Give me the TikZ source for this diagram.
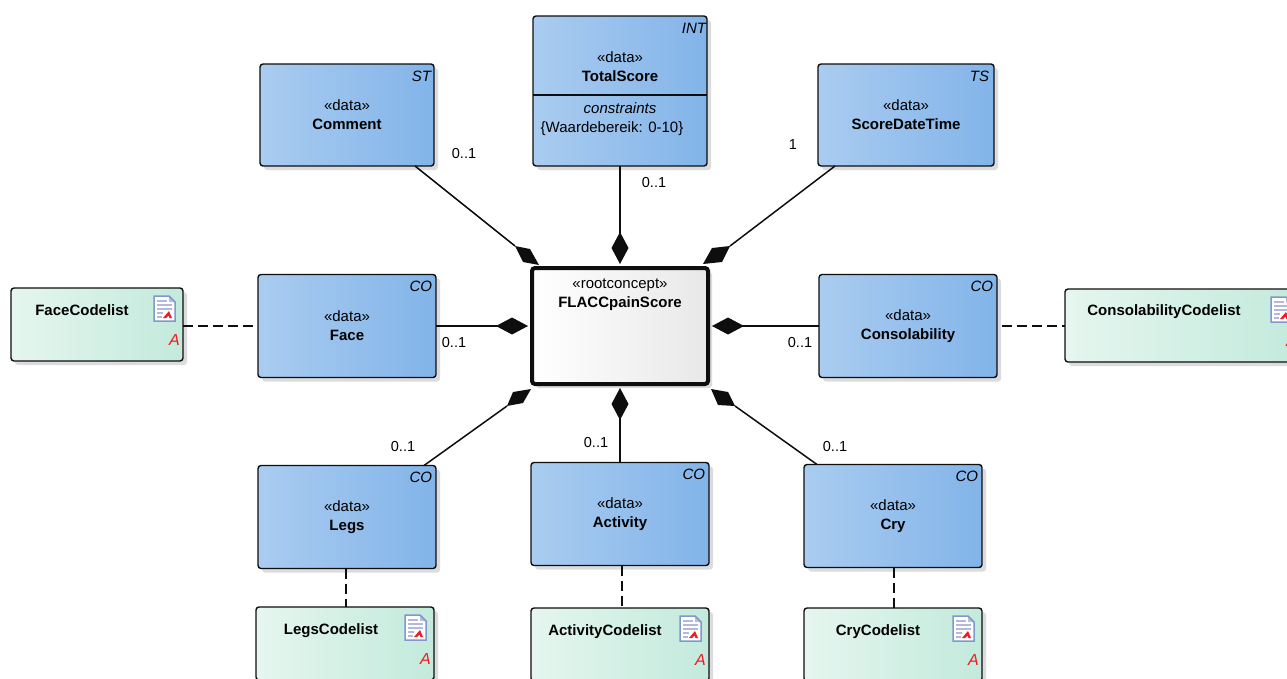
\documentclass[tikz,border=0pt]{standalone}
\usepackage{fontspec}
\setmainfont{Liberation Sans}
\usetikzlibrary{arrows.meta,shadows}
\definecolor{edgeC}{HTML}{0E0E0E}
\definecolor{shadowC}{HTML}{DCDCDE}
\definecolor{blueL}{HTML}{AACCF0}
\definecolor{blueR}{HTML}{82B4E9}
\definecolor{greenL}{HTML}{E5F6EF}
\definecolor{greenR}{HTML}{C3EADC}
\definecolor{whiteR}{HTML}{E8E8E8}
\definecolor{iconB}{HTML}{8297CB}
\definecolor{iconL}{HTML}{B4B8DC}
\definecolor{redA}{HTML}{EE1C25}
\tikzset{
  base/.style={draw=edgeC,line width=1.4pt,rounded corners=3pt,inner sep=0pt,outer sep=0pt,align=center,
    font=\fontsize{15}{19}\selectfont,
    copy shadow={shadow xshift=4pt,shadow yshift=-4pt,fill=shadowC,draw=none,opacity=1}},
  databox/.style={base,left color=blueL,right color=blueR,minimum width=#1,minimum height=103pt},
  databox/.default=178pt,
  codebox/.style={base,left color=greenL,right color=greenR,minimum width=#1,minimum height=73pt},
  codebox/.default=178pt,
  rootbox/.style={base,line width=4pt,left color=white,right color=whiteR,minimum width=176pt,minimum height=116pt},
  txt/.style={inner sep=0pt,outer sep=0pt,font=\fontsize{15}{19}\selectfont,align=center},
  cornertag/.style={inner sep=0pt,outer sep=0pt,font=\fontsize{15}{18}\selectfont\itshape,anchor=north east},
  mult/.style={inner sep=0pt,outer sep=0pt,font=\fontsize{14.5}{17}\selectfont},
  codename/.style={inner sep=0pt,outer sep=0pt,font=\fontsize{15}{18}\selectfont\bfseries},
  redtag/.style={inner sep=0pt,outer sep=0pt,text=redA,font=\fontsize{16}{18}\selectfont\itshape},
  comp/.style={line width=1.5pt,edgeC,{Diamond[length=32pt,width=17pt]}-},
  plainlink/.style={line width=1.5pt,edgeC},
  rhomb/.style={fill=edgeC},
  dep/.style={line width=1.5pt,edgeC,dash pattern=on 10pt off 5pt},
}
\newcommand{\dociconat}[1]{%
  \begin{scope}[shift={(#1.north east)}]
    \fill[white] (-29,8) -- (-14,8) -- (-8,14) -- (-8,33) -- (-29,33) -- cycle;
    \fill[iconB!60] (-14,8) -- (-8,14) -- (-14,14) -- cycle;
    \draw[iconB,line width=1.5pt] (-29,8) -- (-14,8) -- (-8,14) -- (-8,33) -- (-29,33) -- cycle;
    \draw[iconL,line width=1.3pt] (-26,13) -- (-16,13) (-26,17) -- (-11,17) (-26,21) -- (-11,21) (-26,25) -- (-20,25) (-26,29) -- (-21,29);
    \fill[redA] (-20,30) -- (-14,23) -- (-11,30) -- (-13.5,30) -- (-14.5,27.5) -- (-17,30) -- cycle;
  \end{scope}}
\begin{document}
\begin{tikzpicture}[x=1pt,y=-1pt]
\useasboundingbox (0,0) rectangle (1287,678);
\clip (0,0) rectangle (1287,678);
\fill[white] (0,0) rectangle (1287,678);

% data boxes
\node[databox=174pt,minimum height=102pt] (comment) at (347,115) {«data»\\\textbf{Comment}};
\node[databox=174pt,minimum height=150pt] (total) at (620,91) {};
\node[databox=176pt,minimum height=102pt] (datetime) at (906,115) {«data»\\\textbf{ScoreDateTime}};
\node[databox] (face) at (347,326) {«data»\\\textbf{Face}};
\node[databox] (consol) at (908,326) {«data»\\\textbf{Consolability}};
\node[databox] (legs) at (347,517) {«data»\\\textbf{Legs}};
\node[databox] (activity) at (620,514) {«data»\\\textbf{Activity}};
\node[databox] (cry) at (893,516) {«data»\\\textbf{Cry}};
\node[rootbox] (root) at (620,326) {};

% total score compartments
\draw[line width=1.3pt,edgeC] ([yshift=-79pt]total.north west) -- ([yshift=-79pt]total.north east);
\node[txt] (totaltext) at (620,67) {«data»\\\textbf{TotalScore}};
\node[txt] (constraints) at (620,108) {\itshape constraints};
\node[txt] (rule) at (612,129) {\{Waardebereik: 0-10\}};
\node[txt] (rootname) at (620,294.5) {«rootconcept»\\\textbf{FLACCpainScore}};

% code list boxes
\node[codebox=172pt] (facecode) at (97,324.5) {};
\node[codebox=235pt] (consolcode) at (1182.5,325.5) {};
\node[codebox] (legscode) at (345,643.5) {};
\node[codebox] (activitycode) at (620,644.5) {};
\node[codebox] (crycode) at (893,644.5) {};

\node[codename] (n1) at (82,310) {FaceCodelist};
\node[codename] (n2) at (1164,312) {ConsolabilityCodelist};
\node[codename] (n3) at (331,630.5) {LegsCodelist};
\node[codename] (n4) at (605,631.5) {ActivityCodelist};
\node[codename] (n5) at (878,631.5) {CryCodelist};

\foreach \n in {facecode,consolcode,legscode,activitycode,crycode} {
  \dociconat{\n}
  \node[redtag] (a\n) at ([xshift=-8.5pt,yshift=-52pt]\n.north east) {A};
}

% type tags
\node[cornertag] (t1) at ([xshift=-3pt,yshift=-7pt]comment.north east) {ST};
\node[cornertag] (t2) at ([xshift=-1pt,yshift=-7pt]total.north east) {INT};
\node[cornertag] (t3) at ([xshift=-5pt,yshift=-7pt]datetime.north east) {TS};
\node[cornertag] (t4) at ([xshift=-4pt,yshift=-7pt]face.north east) {CO};
\node[cornertag] (t5) at ([xshift=-4pt,yshift=-7pt]consol.north east) {CO};
\node[cornertag] (t6) at ([xshift=-4pt,yshift=-7pt]legs.north east) {CO};
\node[cornertag] (t7) at ([xshift=-4pt,yshift=-7pt]activity.north east) {CO};
\node[cornertag] (t8) at ([xshift=-4pt,yshift=-7pt]cry.north east) {CO};

% composition diamonds on the diagonals, measured from the root's corners
\begin{scope}[shift={(root.north west)}]
  \coordinate (dUL) at (-17,-22);
  \fill[rhomb] (dUL) -- (-2,-19) -- (7,-3) -- (-9,-6) -- cycle;
\end{scope}
\begin{scope}[shift={(root.north east)}]
  \coordinate (dUR) at (22,-22);
  \fill[rhomb] (dUR) -- (4,-20) -- (-5,-4) -- (14,-6) -- cycle;
\end{scope}
\begin{scope}[shift={(root.south west)}]
  \coordinate (dLL) at (-25,22);
  \fill[rhomb] (dLL) -- (-19,8) -- (-1,5) -- (-9,19) -- cycle;
\end{scope}
\begin{scope}[shift={(root.south east)}]
  \coordinate (dLR) at (27,22);
  \fill[rhomb] (dLR) -- (20,8) -- (3,5) -- (10,21) -- cycle;
\end{scope}

% composition connectors
\draw[plainlink] (dUL) -- ([xshift=155pt]comment.south west);
\draw[comp] ([yshift=4pt]root.north) -- (total.south);
\draw[plainlink] (dUR) -- ([xshift=17pt]datetime.south west);
\draw[comp] ([xshift=-4pt]root.west) -- (face.east);
\draw[comp] ([xshift=4pt]root.east) -- (consol.west);
\draw[plainlink] (dLL) -- ([xshift=166pt]legs.north west);
\draw[comp] ([yshift=-4pt]root.south) -- (activity.north);
\draw[plainlink] (dLR) -- ([xshift=13pt]cry.north west);

% dependencies
\draw[dep] (facecode.east |- face.west) -- (face.west);
\draw[dep,dash phase=10pt] (consol.east) -- (consolcode.west |- consol.east);
\draw[dep] ([xshift=-1pt]legs.south) -- ([xshift=1pt]legscode.north);
\draw[dep] ([xshift=2pt]activity.south) -- ([xshift=2pt]activitycode.north);
\draw[dep] ([xshift=1pt]cry.south) -- ([xshift=1pt]crycode.north);

% multiplicities
\node[mult] (m1) at (464,154) {0..1};
\node[mult] (m2) at (654,183) {0..1};
\node[mult] (m3) at (793,145) {1};
\node[mult] (m4) at (454,343) {0..1};
\node[mult] (m5) at (800,343) {0..1};
\node[mult] (m6) at (403,446) {0..1};
\node[mult] (m7) at (596,442) {0..1};
\node[mult] (m8) at (835,446) {0..1};
\end{tikzpicture}
\end{document}
